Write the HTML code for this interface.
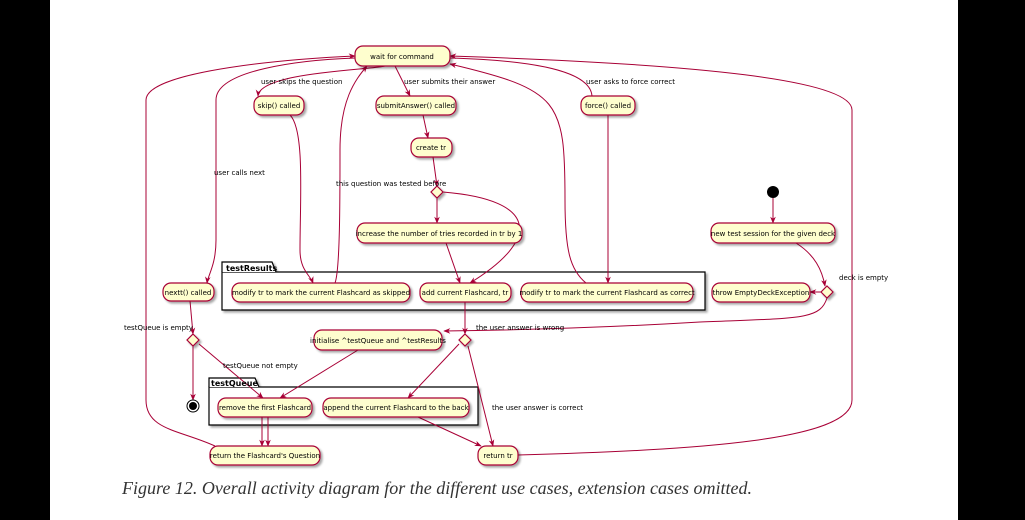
<!DOCTYPE html>
<html><head><meta charset="utf-8"><style>
body{margin:0;width:1025px;height:520px;overflow:hidden;background:#000;}
#pg{position:absolute;left:50px;top:0;width:908px;height:520px;background:#fff;}
svg{position:absolute;left:0;top:0;}
.cap{position:absolute;left:122px;top:478px;font-family:"Liberation Serif",serif;font-style:italic;font-size:18px;color:#333;white-space:nowrap;}
</style></head><body>
<div id="pg"></div>
<svg width="1025" height="520" viewBox="0 0 1025 520" font-family="'DejaVu Sans','Liberation Sans',sans-serif" font-size="7">
<defs>
<marker id="a" viewBox="0 0 10 10" refX="9" refY="5" markerWidth="7" markerHeight="7" orient="auto"><path d="M0,1 L10,5 L0,9 L3,5z" fill="#a80036"/></marker>
<filter id="s"><feDropShadow dx="2" dy="2" stdDeviation="1" flood-color="#000" flood-opacity="0.35"/></filter>
</defs>
<g fill="none" stroke="#a80036" stroke-width="1">
<!-- packages -->
<g stroke="#000" stroke-width="1.2" filter="url(#s)" fill="#fff">
<path d="M222,272 H705 V310 H222 Z"/><path d="M222,272 V262 H272 L276,272"/>
<path d="M209,387 H478 V425 H209 Z"/><path d="M209,387 V378 H255 L259,387"/>
</g>
<!-- edges -->
<path d="M385,66 C370,70 260,72 258,96" marker-end="url(#a)"/>
<path d="M395,66 L410,96" marker-end="url(#a)"/>
<path d="M423,115 L428,138" marker-end="url(#a)"/>
<path d="M433,157 L437,186" marker-end="url(#a)"/>
<path d="M437,198 V223" marker-end="url(#a)"/>
<path d="M443,192 C540,200 540,240 470,283" marker-end="url(#a)"/>
<path d="M446,243 L460,283" marker-end="url(#a)"/>
<path d="M290,115 C305,130 300,200 300,250 C300,270 310,275 313,283" marker-end="url(#a)"/>
<path d="M335,283 C340,270 340,200 340,150 C340,100 355,80 367,66" marker-end="url(#a)"/>
<path d="M608,115 V283" marker-end="url(#a)"/>
<path d="M586,283 C570,270 565,250 565,200 C565,100 560,90 450,64" marker-end="url(#a)"/>
<path d="M450,58 C520,60 590,68 592,96" />
<path d="M355,58 C300,60 216,70 216,100 L216,240 C216,265 208,275 207,283" marker-end="url(#a)"/>
<path d="M190,301 L193,334" marker-end="url(#a)"/>
<path d="M193,346 V400" marker-end="url(#a)"/>
<path d="M199,344 L263,398" marker-end="url(#a)"/>
<path d="M358,350 L280,398" marker-end="url(#a)"/>
<path d="M465,302 V334" marker-end="url(#a)"/>
<path d="M459,344 L408,398" marker-end="url(#a)"/>
<path d="M468,346 L493,446" marker-end="url(#a)"/>
<path d="M418,417 L481,446" marker-end="url(#a)"/>
<path d="M262,417 V446" marker-end="url(#a)"/>
<path d="M268,417 V446" marker-end="url(#a)"/>
<path d="M773,198 V223" marker-end="url(#a)"/>
<path d="M796,243 C815,255 822,270 825,286" marker-end="url(#a)"/>
<path d="M821,292 H810" marker-end="url(#a)"/>
<path d="M827,298 C820,320 800,318 700,322 C600,328 520,330 444,331" marker-end="url(#a)"/>
<path d="M215,446 C180,430 146,430 146,400 L146,100 C146,70 300,58 355,56" marker-end="url(#a)"/>
<path d="M518,455 C700,450 852,440 852,400 L852,110 C852,80 700,64 450,56" marker-end="url(#a)"/>
</g>
<g fill="#fefece" stroke="#a80036" stroke-width="1.2" filter="url(#s)">
<rect x="355" y="46" width="95" height="20" rx="8"/>
<rect x="254" y="96" width="50" height="19" rx="8"/>
<rect x="376" y="96" width="80" height="19" rx="8"/>
<rect x="581" y="96" width="54" height="19" rx="8"/>
<rect x="411" y="138" width="41" height="19" rx="8"/>
<rect x="357" y="223" width="165" height="20" rx="8"/>
<rect x="711" y="223" width="124" height="20" rx="8"/>
<rect x="163" y="283" width="51" height="18" rx="8"/>
<rect x="232" y="283" width="178" height="19" rx="8"/>
<rect x="420" y="283" width="91" height="19" rx="8"/>
<rect x="521" y="283" width="172" height="19" rx="8"/>
<rect x="712" y="283" width="98" height="19" rx="8"/>
<rect x="314" y="330" width="128" height="20" rx="8"/>
<rect x="218" y="398" width="94" height="19" rx="8"/>
<rect x="323" y="398" width="146" height="19" rx="8"/>
<rect x="210" y="446" width="110" height="19" rx="8"/>
<rect x="478" y="446" width="40" height="19" rx="8"/>
<path d="M437,186 L443,192 L437,198 L431,192Z"/>
<path d="M827,286 L833,292 L827,298 L821,292Z"/>
<path d="M193,334 L199,340 L193,346 L187,340Z"/>
<path d="M465,334 L471,340 L465,346 L459,340Z"/>
</g>
<circle cx="773" cy="192" r="6" fill="#000"/>
<circle cx="193" cy="406" r="6" fill="none" stroke="#000"/><circle cx="193" cy="406" r="4" fill="#000"/>
<g fill="#000" text-anchor="middle">
<text x="402" y="59">wait for command</text>
<text x="279" y="108">skip() called</text>
<text x="416" y="108">submitAnswer() called</text>
<text x="608" y="108">force() called</text>
<text x="431" y="150">create tr</text>
<text x="439" y="236">increase the number of tries recorded in tr by 1</text>
<text x="773" y="236">new test session for the given deck</text>
<text x="188" y="295">nextt() called</text>
<text x="321" y="295">modify tr to mark the current Flashcard as skipped</text>
<text x="465" y="295">add current Flashcard, tr</text>
<text x="607" y="295">modify tr to mark the current Flashcard as correct</text>
<text x="761" y="295">throw EmptyDeckException</text>
<text x="378" y="343">initialise ^testQueue and ^testResults</text>
<text x="265" y="410">remove the first Flashcard</text>
<text x="396" y="410">append the current Flashcard to the back</text>
<text x="265" y="458">return the Flashcard's Question</text>
<text x="498" y="458">return tr</text>
</g>
<g fill="#000">
<text x="261" y="84">user skips the question</text>
<text x="404" y="84">user submits their answer</text>
<text x="586" y="84">user asks to force correct</text>
<text x="214" y="175">user calls next</text>
<text x="336" y="186">this question was tested before</text>
<text x="839" y="280">deck is empty</text>
<text x="124" y="330">testQueue is empty</text>
<text x="476" y="330">the user answer is wrong</text>
<text x="223" y="368">testQueue not empty</text>
<text x="492" y="410">the user answer is correct</text>
<text x="226" y="271" font-weight="bold" font-size="8">testResults</text>
<text x="211" y="386" font-weight="bold" font-size="8">testQueue</text>
</g>
</svg>
<div class="cap">Figure 12. Overall activity diagram for the different use cases, extension cases omitted.</div>
</body></html>
